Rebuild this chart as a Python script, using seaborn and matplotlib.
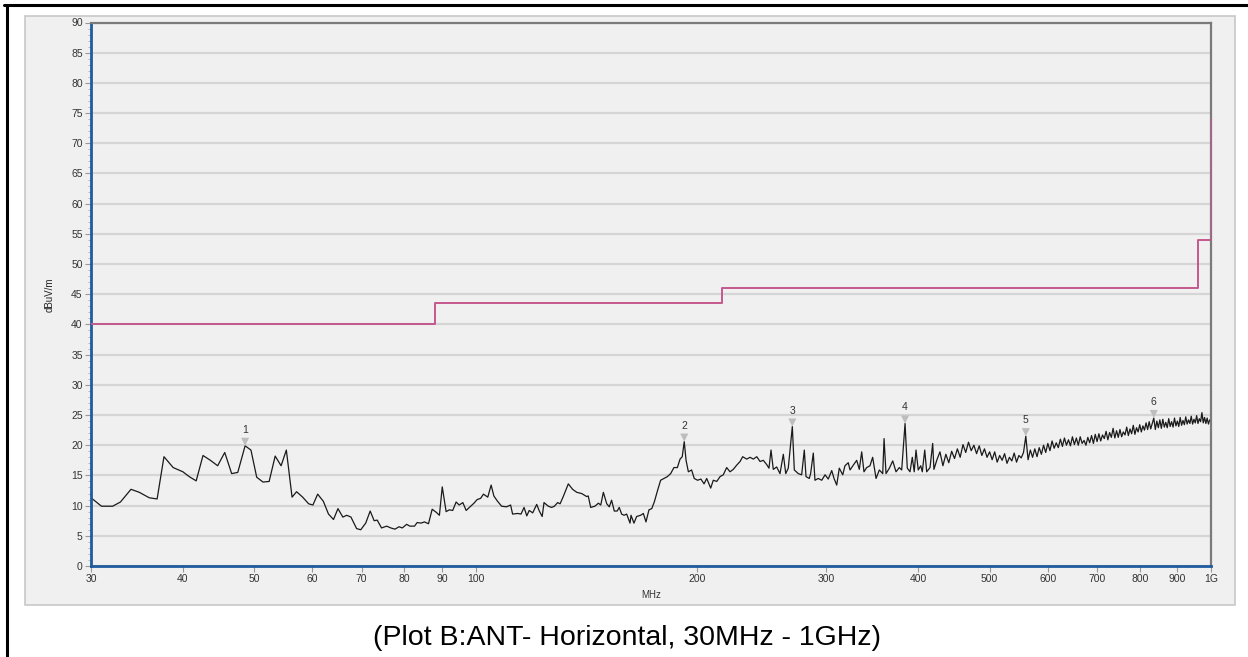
import matplotlib
matplotlib.use("Agg")
import matplotlib.pyplot as plt
import matplotlib.transforms as mtransforms
from matplotlib.lines import Line2D
from matplotlib.patches import Rectangle
from matplotlib.ticker import MultipleLocator, NullLocator
import numpy as np
import pandas as pd
import seaborn as sns

# Measured trace, 30 MHz - 418 MHz (read point by point)
low_freq = [30.0, 31.0, 32.1, 32.9, 34.0, 34.9, 36.0, 36.9, 37.7, 38.8,
            40.0, 40.8, 41.7, 42.6, 43.6, 44.6, 45.6, 46.6, 47.5, 48.6,
            49.5, 50.4, 51.4, 52.4, 53.4, 54.4, 55.3, 56.3, 57.1, 58.2,
            59.3, 60.1, 61.0, 62.1, 63.1, 64.1, 65.0, 66.0, 66.8, 67.7,
            68.9, 69.8, 70.9, 71.9, 72.8, 73.5, 74.5, 75.7, 76.7, 77.7,
            78.7, 79.5, 80.6, 81.4, 82.6, 83.3, 84.3, 85.2, 86.3, 87.3,
            88.4, 89.3, 90.1, 91.2, 92.1, 93.1, 94.1, 95.0, 96.1, 97.1,
            98.3, 99.5, 100.5, 101.6, 102.5, 103.9, 105.0, 105.9, 107.0, 108.5,
            110.2, 111.6, 112.3, 114.1, 115.3, 116.4, 117.4, 118.3, 119.6, 121.1,
            122.1, 123.2, 123.9, 125.6, 126.9, 128.0, 129.3, 130.3, 131.6, 133.7,
            135.5, 137.3, 139.4, 141.6, 142.3, 143.4, 145.3, 146.9, 148.0, 149.2,
            150.8, 152.0, 153.1, 154.4, 155.8, 156.8, 158.0, 159.2, 160.5, 161.3,
            162.2, 162.7, 164.2, 165.6, 167.7, 169.1, 170.5, 172.1, 173.6, 175.0,
            176.6, 178.5, 180.4, 182.3, 184.2, 186.1, 188.1, 189.7, 191.0, 192.2,
            193.3, 194.7, 196.7, 198.3, 200.4, 202.5, 204.5, 206.2, 208.8, 210.5,
            212.8, 215.0, 217.2, 219.5, 221.8, 224.1, 226.5, 228.9, 230.8, 233.7,
            236.2, 238.6, 241.2, 243.7, 246.2, 248.8, 250.6, 252.2, 254.0, 256.7,
            259.4, 262.1, 264.1, 266.2, 269.6, 271.3, 274.7, 277.6, 279.9, 281.4,
            284.3, 285.5, 287.9, 289.4, 292.4, 295.6, 298.7, 301.7, 305.0, 307.2,
            309.8, 312.3, 315.7, 317.9, 321.2, 323.0, 326.3, 329.8, 332.5, 335.0,
            337.4, 340.3, 343.8, 346.7, 350.4, 354.0, 357.8, 359.3, 361.5, 365.3,
            369.2, 373.0, 376.9, 379.7, 383.7, 386.4, 389.7, 392.5, 394.9, 397.1,
            399.9, 403.0, 405.0, 408.1, 410.6, 414.9, 418.4]
low_level = [11.3, 9.9, 9.9, 10.6, 12.7, 12.2, 11.3, 11.1, 18.1, 16.3,
             15.6, 14.8, 14.1, 18.3, 17.5, 16.6, 18.8, 15.3, 15.5, 19.9,
             19.2, 14.7, 13.9, 14.0, 18.2, 16.6, 19.2, 11.4, 12.3, 11.4,
             10.3, 10.1, 11.9, 10.7, 8.6, 7.7, 9.5, 8.1, 8.4, 8.1,
             6.2, 6.0, 7.1, 9.1, 7.5, 7.6, 6.3, 6.6, 6.3, 6.1,
             6.5, 6.3, 6.9, 6.6, 6.6, 7.2, 7.1, 7.3, 7.0, 9.4,
             8.9, 8.4, 13.1, 9.0, 9.3, 9.2, 10.6, 10.1, 10.5, 9.2,
             9.8, 10.4, 11.0, 11.2, 11.9, 11.4, 13.4, 11.6, 10.8, 9.9,
             9.8, 10.1, 8.6, 8.7, 8.6, 9.7, 8.3, 9.2, 8.8, 10.2,
             9.1, 8.2, 10.5, 9.9, 9.7, 9.9, 10.5, 10.3, 11.5, 13.6,
             12.7, 12.2, 12.0, 11.5, 11.6, 9.7, 9.9, 10.4, 10.1, 12.2,
             10.3, 9.8, 10.9, 9.1, 9.1, 9.7, 8.6, 8.4, 8.6, 7.9,
             7.1, 8.4, 7.1, 8.2, 8.4, 8.7, 7.3, 9.3, 9.5, 10.6,
             12.3, 14.2, 14.5, 14.8, 15.3, 16.3, 16.3, 17.7, 18.1, 20.6,
             17.5, 15.6, 15.9, 14.5, 14.2, 14.4, 13.6, 14.5, 12.9, 14.2,
             14.0, 14.8, 15.1, 16.3, 15.6, 16.0, 16.7, 17.3, 18.1, 17.7,
             18.0, 17.7, 18.1, 17.3, 17.5, 16.8, 16.2, 19.2, 16.0, 16.4,
             15.3, 18.5, 15.3, 16.2, 23.1, 15.9, 15.3, 15.1, 19.2, 14.8,
             14.5, 15.3, 18.7, 14.2, 14.5, 14.2, 15.1, 14.4, 15.8, 14.5,
             13.4, 16.2, 15.1, 16.6, 17.1, 15.9, 16.7, 17.5, 16.0, 18.9,
             15.6, 16.3, 16.6, 18.0, 14.5, 15.9, 15.3, 21.1, 15.3, 16.2,
             17.4, 15.6, 16.3, 15.9, 23.6, 16.2, 15.6, 18.0, 15.6, 19.2,
             15.9, 16.6, 15.6, 19.2, 15.6, 16.3, 20.3]

# Dense part of the sweep, 420 MHz - 1 GHz in 4 MHz steps
sweep_start, sweep_step = 420, 4
high_level = [16.0, 17.6, 18.9, 16.6, 18.5, 17.1, 19.0, 17.8, 19.4, 18.0,
              20.1, 18.8, 20.5, 19.1, 20.0, 18.6, 19.9, 18.3, 19.4, 18.0,
              18.9, 17.6, 18.9, 17.2, 18.3, 17.5, 18.6, 17.0, 18.0, 17.4,
              18.7, 17.2, 18.3, 17.9, 18.8, 21.5, 17.6, 19.2, 18.0, 19.4,
              18.1, 19.6, 18.5, 20.0, 18.8, 20.3, 19.1, 20.7, 19.5, 20.4,
              19.6, 21.0, 19.8, 21.2, 20.0, 20.9, 19.9, 21.4, 20.1, 21.2,
              20.0, 21.4, 20.3, 20.8, 20.0, 21.3, 20.4, 21.6, 20.3, 21.8,
              20.6, 21.9, 20.7, 21.7, 21.1, 22.3, 20.9, 22.1, 21.3, 22.8,
              21.2, 22.4, 21.3, 22.6, 21.4, 22.2, 21.7, 23.0, 21.6, 22.7,
              21.9, 23.3, 21.8, 22.9, 22.2, 23.4, 22.2, 23.2, 22.5, 23.7,
              22.6, 23.9, 22.7, 23.6, 24.5, 22.6, 24.0, 22.9, 24.2, 22.8,
              24.3, 23.0, 23.8, 22.9, 24.4, 23.1, 23.9, 23.0, 24.5, 23.2,
              24.0, 23.1, 24.6, 23.3, 24.1, 23.4, 24.7, 23.5, 24.2, 23.6,
              24.8, 23.5, 24.3, 23.7, 24.9, 23.6, 24.4, 23.9, 25.4, 23.7,
              24.6, 23.6, 24.5, 23.5, 24.2, 23.9]
high_freq = [sweep_start + sweep_step * i for i in range(len(high_level))]

# Limit line (step changes)
limit_freq = [30, 88, 216, 960, 1000]
limit_level = [40, 43.5, 46, 54, 74]

# Peak markers
marker_labels = ['1', '2', '3', '4', '5', '6']
marker_freq = [48.6, 192.2, 269.6, 383.7, 560, 836]
marker_level = [19.9, 20.6, 23.1, 23.6, 21.5, 24.5]

x_ticks = [30, 40, 50, 60, 70, 80, 90, 100, 200, 300, 400, 500, 600, 700, 800, 900, 1000]
x_tick_labels = ['30', '40', '50', '60', '70', '80', '90', '100', '200', '300',
                 '400', '500', '600', '700', '800', '900', '1G']

trace = pd.DataFrame({'MHz': low_freq + high_freq, 'level': low_level + high_level})
limit = pd.DataFrame({'MHz': limit_freq, 'level': limit_level})

sns.set_style("white")
plt.rcParams['font.family'] = ['Liberation Sans', 'DejaVu Sans']

W, H = 1248, 657
fig = plt.figure(figsize=(W / 100, H / 100), dpi=100)
fig.patch.set_facecolor('white')

# grey chart panel and the black frame lines of the page
fig.add_artist(Rectangle((25 / W, 1 - 605 / H), 1210 / W, 589 / H, transform=fig.transFigure,
                         facecolor='#f0f0f0', edgecolor='#c8c8c8', lw=1.2, zorder=0))
fig.add_artist(Line2D([4 / W, 1], [1 - 5 / H, 1 - 5 / H], color='black', lw=2.2,
                      transform=fig.transFigure))
fig.add_artist(Line2D([7 / W, 7 / W], [0, 1 - 5 / H], color='black', lw=2.2,
                      transform=fig.transFigure))

ax = fig.add_axes([91 / W, 1 - 566 / H, 1120 / W, 543.5 / H])
ax.set_facecolor('#f0f0f0')

sns.lineplot(data=limit, x='MHz', y='level', ax=ax, color='#c4578d', lw=1.4,
             drawstyle='steps-post', estimator=None, zorder=3)
sns.lineplot(data=trace, x='MHz', y='level', ax=ax, color='#1a1a1a', lw=0.9,
             estimator=None, sort=False)

# markers: grey triangle just above the peak, number above that
tri = mtransforms.offset_copy(ax.transData, fig=fig, x=0, y=4, units='dots')
sns.scatterplot(x=marker_freq, y=marker_level, ax=ax, marker='v', s=34, color='#bdbdbd',
                edgecolor='none', transform=tri, zorder=5)
for lab, f, v in zip(marker_labels, marker_freq, marker_level):
    ax.annotate(lab, (f, v), xytext=(0, 16), textcoords='offset pixels',
                ha='center', va='center', fontsize=7.5, color='#333333')

ax.set_xscale('log')
ax.set_xlim(30, 1000)
ax.set_ylim(0, 90)
ax.set_xticks(x_ticks)
ax.set_xticklabels(x_tick_labels)
ax.xaxis.set_minor_locator(NullLocator())
ax.yaxis.set_major_locator(MultipleLocator(5))
ax.yaxis.set_minor_locator(MultipleLocator(1))

ax.yaxis.grid(True, which='major', color='#d5d5d5', lw=1.6)
ax.xaxis.grid(False)
ax.set_axisbelow(True)

for s in ['left', 'bottom']:
    ax.spines[s].set_color('#1f5b9e')
    ax.spines[s].set_linewidth(2)
for s in ['top', 'right']:
    ax.spines[s].set_color('#7a7a7a')
    ax.spines[s].set_linewidth(1.6)

ax.tick_params(axis='both', which='major', labelsize=7.5, labelcolor='#333333',
               color='#999999', length=4, width=0.8, pad=2, left=True, bottom=True)
ax.tick_params(axis='y', which='minor', color='#aaaaaa', length=2, width=0.6, left=True)

ax.set_xlabel('MHz', fontsize=7, color='#333333', labelpad=4)
ax.set_ylabel('dBuV/m', fontsize=7, color='#222222', labelpad=12)

fig.text(627 / W, 1 - 638 / H, '(Plot B:ANT- Horizontal, 30MHz - 1GHz)',
         ha='center', va='center', fontsize=20.5, color='black')

fig.savefig('out.png', dpi=100)
